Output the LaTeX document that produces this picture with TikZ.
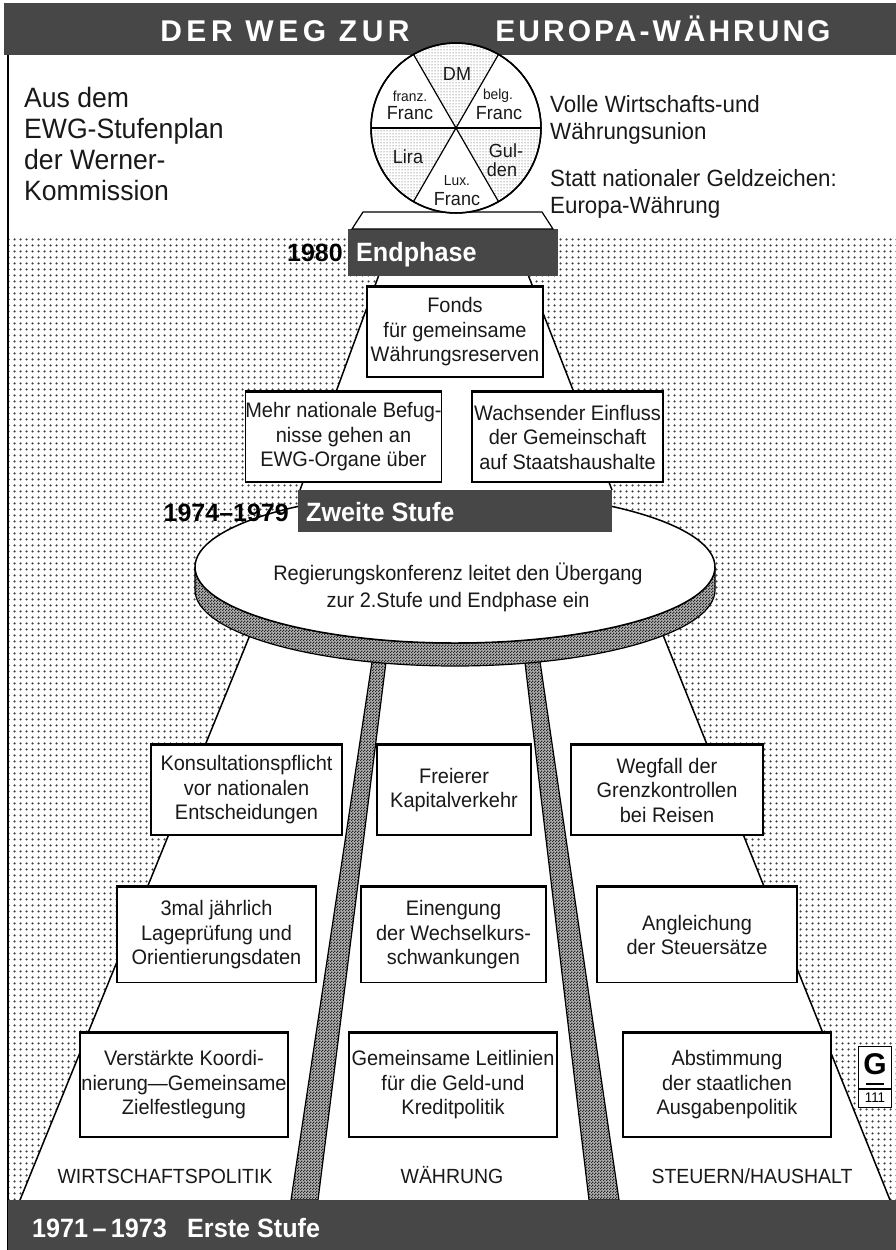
\documentclass[tikz,border=0pt]{standalone}
\usepackage{fontspec}
\setmainfont{Liberation Sans}
\newfontfamily\cond{Liberation Sans}[FakeStretch=0.95]
\newfontfamily\titlefontA{Liberation Sans}[LetterSpace=15]
\newfontfamily\titlefontB{Liberation Sans}[LetterSpace=10]
\usetikzlibrary{patterns}
\pgfdeclarepatternformonly{bgdots}{\pgfqpoint{0pt}{0pt}}{\pgfqpoint{6pt}{6pt}}{\pgfqpoint{6pt}{6pt}}{\pgfpathcircle{\pgfqpoint{3pt}{3pt}}{1.4pt}\pgfusepath{fill}}
\pgfdeclarepatternformonly{checker}{\pgfqpoint{0pt}{0pt}}{\pgfqpoint{3pt}{3pt}}{\pgfqpoint{3pt}{3pt}}{\pgfpathrectangle{\pgfqpoint{0pt}{0pt}}{\pgfqpoint{1.5pt}{1.5pt}}\pgfpathrectangle{\pgfqpoint{1.5pt}{1.5pt}}{\pgfqpoint{1.5pt}{1.5pt}}\pgfusepath{fill}}
\newcommand{\boxfnt}{\cond\fontsize{21}{24.5}\selectfont}
\newcommand{\lblfnt}{\cond\fontsize{20.5}{24}\selectfont}
\newcommand{\headfnt}{\cond\bfseries\fontsize{26.5}{30}\selectfont}
\newcommand{\blackheadfnt}{\bfseries\fontsize{25}{30}\selectfont}
\newcommand{\topfnt}{\cond\fontsize{28}{31}\selectfont}
\newcommand{\rightfnt}{\cond\fontsize{23.5}{26.5}\selectfont}
\newcommand{\coinfnt}{\cond\fontsize{19}{18}\selectfont}
\newcommand{\coinsmall}{\cond\fontsize{14.5}{14}\selectfont}
\newcommand{\konffnt}{\cond\fontsize{21}{27}\selectfont}
\begin{document}
\begin{tikzpicture}[x=1pt,y=-1pt,
  box/.style={draw=black, line width=1.2pt, fill=white, align=center, inner sep=0pt, font=\boxfnt, text=black!90},
  dark/.style={fill=black!72},
  leg/.style={preaction={fill=black!30}, pattern=checker, pattern color=black!85, draw=black, line width=1.2pt},
  edgeline/.style={draw=black, line width=1.5pt},
  wtxt/.style={text=white, inner sep=0pt, font=\headfnt},
  btxt/.style={text=black, inner sep=0pt, font=\blackheadfnt},
  lbl/.style={inner sep=0pt, font=\lblfnt, text=black!90, anchor=base},
  plain/.style={inner sep=0pt, align=left, text=black!90},
  coin/.style={inner sep=0pt, font=\coinfnt, text=black!90},
  coinsm/.style={inner sep=0pt, font=\coinsmall, text=black!90},
]
\useasboundingbox (0,0) rectangle (896,1250);
\fill[white] (0,0) rectangle (896,1250);
% dotted background
\fill[pattern=bgdots, pattern color=black!75] (8,235) rectangle (896,1200);
\draw[line width=1.2pt] (8,55) -- (8,1250);
% title band
\fill[dark] (4,3) rectangle (896,55);
\node[text=white, inner sep=0pt, font=\titlefontA\bfseries\fontsize{30}{32}\selectfont, anchor=base] (t1) at (285,41) {DER WEG ZUR};
\node[text=white, inner sep=0pt, font=\titlefontB\bfseries\fontsize{30}{32}\selectfont, anchor=base] (t2) at (663,41) {EUROPA-WÄHRUNG};

% ---------- big pyramid (Erste Stufe) ----------
\coordinate (pl1) at (252,630);
\coordinate (pl2) at (20,1200);
\coordinate (pr1) at (661,630);
\coordinate (pr2) at (890,1200);
\fill[white] (pl1) -- (pr1) -- (pr2) -- (pl2) -- cycle;
\draw[edgeline] (pl1) -- (pl2);
\draw[edgeline] (pr1) -- (pr2);
% middle legs
\draw[leg] (373.8,650) -- (387.5,650) -- (318,1200) -- (291,1200) -- cycle;
\draw[leg] (523.5,650) -- (538.3,650) -- (619,1200) -- (589,1200) -- cycle;

% ---------- table (Zweite Stufe) ----------
\draw[leg] (195,567) -- (195,590) arc[start angle=180, end angle=0, x radius=260, y radius=76]
   -- (715,567) arc[start angle=0, end angle=180, x radius=260, y radius=76] -- cycle;
\draw[line width=1.5pt, fill=white] (455,567) ellipse [x radius=260, y radius=76];
\node[font=\konffnt, align=center, inner sep=0pt, text=black!90] (konf) at (458,587)
  {Regierungskonferenz leitet den Übergang\\zur 2.Stufe und Endphase ein};

% ---------- tier 2 ----------
\fill[white] (380,272) -- (527,272) -- (612,490) -- (300,490) -- cycle;
\draw[edgeline] (380,272) -- (300,490);
\draw[edgeline] (527,272) -- (612,490);
\node[dark, minimum width=314pt, minimum height=42pt, inner sep=0pt] (zbox) at (455,511) {};
\node[btxt, anchor=base east] (y2) at (289,521) {1974–1979};
\node[wtxt, anchor=base west] (z2) at (306,521) {Zweite Stufe};

\node[box, minimum width=176pt, minimum height=90pt] (fonds) at (455,332) {Fonds\\für gemeinsame\\Währungsreserven};
\node[box, minimum width=193pt, minimum height=90pt] (mehr) at (343.5,437) {Mehr nationale Befug-\\nisse gehen an\\EWG-Organe über};
\node[box, minimum width=191pt, minimum height=90pt] (wachs) at (567.5,437) {Wachsender Einfluss\\der Gemeinschaft\\auf Staatshaushalte};

% ---------- Endphase / coin ----------
\node[dark, minimum width=210pt, minimum height=47pt, inner sep=0pt] (ebox) at (453,252) {};
\node[btxt, anchor=base east] (y3) at (343,261) {1980};
\node[wtxt, anchor=base west] (e3) at (356,261) {Endphase};
\draw[line width=1.2pt, fill=white] (363,212) -- (542,212) -- (553,229) -- (352,229) -- cycle;
\draw[line width=1.5pt, fill=white] (456,128) circle [radius=85];
\fill[pattern=dots, pattern color=black!75] (456,128) -- (498.5,54.4) arc[start angle=-60, end angle=-120, radius=85] -- cycle;
\fill[pattern=dots, pattern color=black!75] (456,128) -- (371,128) arc[start angle=-180, end angle=-240, radius=85] -- cycle;
\fill[pattern=dots, pattern color=black!75] (456,128) -- (498.5,201.6) arc[start angle=-300, end angle=-360, radius=85] -- cycle;
\draw[line width=1.5pt] (456,128) circle [radius=85];
\draw[line width=1.2pt] (413.5,54.4) -- (498.5,201.6);
\draw[line width=1.2pt] (498.5,54.4) -- (413.5,201.6);
\draw[line width=1.2pt] (371,128) -- (541,128);
\node[coin] (dm) at (457,74) {DM};
\node[coinsm] (fz1) at (410,96) {franz.};
\node[coin] (fz2) at (410,113) {Franc};
\node[coinsm] (bg1) at (498,96) {belg.};
\node[coin] (bg2) at (499,113) {Franc};
\node[coin] (lira) at (408,157) {Lira};
\node[coin] (gul1) at (506,151) {Gul-};
\node[coin] (gul2) at (502,170) {den};
\node[coinsm] (lux1) at (457,181) {Lux.};
\node[coin] (lux2) at (457,199) {Franc};

% top texts
\node[plain, font=\topfnt, anchor=west] (aus) at (24,144) {Aus dem\\EWG-Stufenplan\\der Werner-\\Kommission};
\node[plain, font=\rightfnt, anchor=west] (volle) at (550,120) {Volle Wirtschafts-und\\Währungsunion};
\node[plain, font=\rightfnt, anchor=west] (statt) at (550,194) {Statt nationaler Geldzeichen:\\Europa-Währung};

% ---------- rows of boxes ----------
\node[box, minimum width=191pt, minimum height=90pt] (k1) at (246.5,790) {Konsultationspflicht\\vor nationalen\\Entscheidungen};
\node[box, minimum width=154pt, minimum height=90pt] (k2) at (454,790) {Freierer\\Kapitalverkehr};
\node[box, minimum width=192pt, minimum height=90pt] (k3) at (667,790) {Wegfall der\\Grenzkontrollen\\bei Reisen};
\node[box, minimum width=199pt, minimum height=95pt] (m1) at (216.5,935) {3mal jährlich\\Lageprüfung und\\Orientierungsdaten};
\node[box, minimum width=185pt, minimum height=95pt] (m2) at (453.5,935) {Einengung\\der Wechselkurs-\\schwankungen};
\node[box, minimum width=200pt, minimum height=95pt] (m3) at (697,935) {Angleichung\\der Steuersätze};
\node[box, minimum width=208pt, minimum height=104pt] (b1) at (184,1085) {Verstärkte Koordi-\\nierung—Gemeinsame\\Zielfestlegung};
\node[box, minimum width=208pt, minimum height=104pt] (b2) at (453,1085) {Gemeinsame Leitlinien\\für die Geld-und\\Kreditpolitik};
\node[box, minimum width=208pt, minimum height=104pt] (b3) at (727,1085) {Abstimmung\\der staatlichen\\Ausgabenpolitik};
\foreach \n in {fonds,mehr,wachs,k1,k2,k3,m1,m2,m3,b1,b2,b3}
  \draw[line width=3pt] (\n.north west) -- (\n.north east);

\node[lbl] (l1) at (165,1183) {WIRTSCHAFTSPOLITIK};
\node[lbl] (l2) at (452,1183) {WÄHRUNG};
\node[lbl] (l3) at (752,1183) {STEUERN/HAUSHALT};

% G logo
\node[draw=black, line width=1.2pt, fill=white, minimum width=33pt, minimum height=61pt, inner sep=0pt] (glogo) at (875,1077) {};
\draw[line width=1.2pt] (glogo.west |- 0,1089) -- (glogo.east |- 0,1089);
\node[inner sep=0pt, font=\bfseries\fontsize{30}{30}\selectfont] (gl) at (875,1064) {G};
\draw[line width=2pt] (866,1084) -- (884,1084);
\node[inner sep=0pt, font=\cond\fontsize{14}{14}\selectfont] (g111) at (875,1098) {111};

% bottom band
\fill[dark] (8,1200) rectangle (896,1250);
\node[wtxt, anchor=base west] (y1) at (32,1237) {1971\,–\,1973};
\node[wtxt, anchor=base west] (e1) at (187,1237) {Erste Stufe};
\end{tikzpicture}
\end{document}
